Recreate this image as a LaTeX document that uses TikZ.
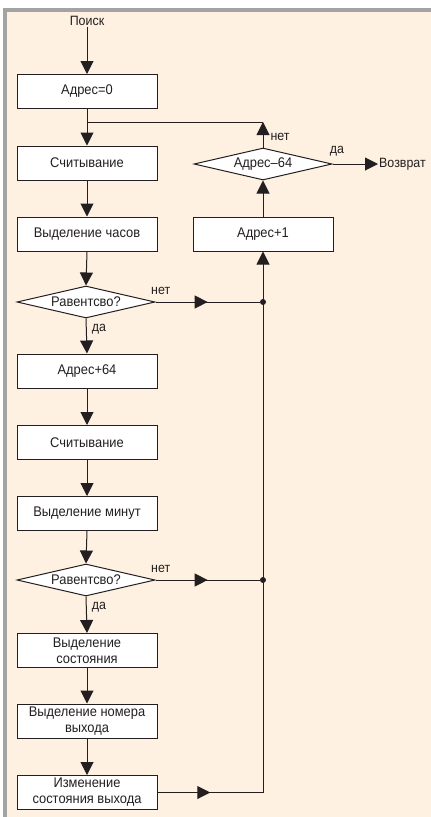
\documentclass[tikz,border=0pt]{standalone}
\usepackage{fontspec}
\setmainfont[FakeStretch=0.92]{Liberation Sans}
\usepackage{xcolor}
\definecolor{chart-fill}{HTML}{FEF1E1}
\definecolor{chart-frame}{HTML}{A3A3A3}
\definecolor{chart-line}{HTML}{231F20}
\usepackage{tikz}
\usetikzlibrary{
  shapes.geometric,
  arrows.meta,
  decorations.markings
}

\begin{document}
\begin{tikzpicture}[
    x=1pt, y=-1pt,
    block/.style={
      rectangle,
      draw=chart-line,
      fill=white,
      line width=1pt,
      minimum width=140pt,
      minimum height=34pt,
      inner sep=1pt,
      font=\fontsize{14}{16}\selectfont,
      text=chart-line,
      align=center
    },
    test/.style={
      diamond,
      aspect=4.3,
      draw=chart-line,
      fill=white,
      line width=1pt,
      minimum width=138pt,
      minimum height=32pt,
      inner sep=0pt,
      font=\fontsize{14}{16}\selectfont,
      text=chart-line
    },
    flow/.style={
      -{Triangle[length=13pt, width=13pt]},
      line width=1pt,
      color=chart-line
    },
    wire/.style={
      line width=1pt,
      color=chart-line
    },
    midflow/.style={
      wire,
      postaction={decorate},
      decoration={markings,
        mark=at position 0.5 with {\arrow{Triangle[length=13pt, width=13pt]}}}
    },
    tag/.style={
      font=\fontsize{13.5}{15}\selectfont,
      text=chart-line,
      inner sep=1pt
    },
    dot/.style={
      circle,
      fill=chart-line,
      inner sep=0pt,
      minimum size=6pt
    }
  ]
    % ---- Frame ----
    \useasboundingbox (0,0) rectangle (431,817);
    \fill[chart-frame] (3,8) rectangle (431,817);
    \fill[chart-fill] (7,12) rectangle (431,817);

    % ---- Main column ----
    \node[tag]   (start)  at (87, 21)    {Поиск};
    \node[block] (zero)   at (87, 91.5)  {Адрес=0};
    \node[block] (read1)  at (87, 163)   {Считывание};
    \node[block] (hours)  at (87, 234)   {Выделение часов};
    \node[test]  (eq1)    at (86, 302)   {Равентсво?};
    \node[block] (add64)  at (87, 371)   {Адрес+64};
    \node[block] (read2)  at (87, 442.5) {Считывание};
    \node[block] (mins)   at (87, 513.5) {Выделение минут};
    \node[test]  (eq2)    at (86, 580)   {Равентсво?};
    \node[block] (state)  at (87, 650.5) {Выделение\\состояния};
    \node[block] (outnum) at (87, 721)   {Выделение номера\\выхода};
    \node[block] (change) at (87, 792.5) {Изменение\\состояния выхода};

    % ---- Loop column ----
    \node[test]  (end64)  at (263, 164)  {Адрес--64};
    \node[block] (inc)    at (263, 234)  {Адрес+1};
    \node[tag, anchor=west] (back) at (378, 164) {Возврат};

    % ---- Junctions ----
    \coordinate (top)   at (263, 122);
    \coordinate (merge) at (87, 122);
    \node[dot] (j1) at (263, 302) {};
    \node[dot] (j2) at (263, 580) {};
    \coordinate (low)   at (263, 792.5);

    % ---- Main flow ----
    \draw[flow] (start)        -- (zero.north);
    \draw[flow] (zero.south)   -- (read1.north);
    \draw[flow] (read1.south)  -- (hours.north);
    \draw[flow] (hours.south)  -- (eq1.north);
    \draw[flow] (eq1.south)    -- (add64.north)
      node[tag, pos=0.3, right=4pt] {да};
    \draw[flow] (add64.south)  -- (read2.north);
    \draw[flow] (read2.south)  -- (mins.north);
    \draw[flow] (mins.south)   -- (eq2.north);
    \draw[flow] (eq2.south)    -- (state.north)
      node[tag, pos=0.3, right=4pt] {да};
    \draw[flow] (state.south)  -- (outnum.north);
    \draw[flow] (outnum.south) -- (change.north);

    % ---- Branches to the loop ----
    \draw[midflow] (eq1.east) -- (j1)
      node[tag, pos=0.05, above=6pt] {нет};
    \draw[midflow] (eq2.east) -- (j2)
      node[tag, pos=0.05, above=6pt] {нет};
    \draw[midflow] (change.east) -- (low);
    \draw[flow] (low) -- (inc.south);

    % ---- Loop back ----
    \draw[flow] (inc.north)   -- (end64.south);
    \draw[flow] (end64.north) -- (top)
      node[tag, pos=0.4, right=6pt] {нет};
    \draw[wire] (top) -- (merge);
    \draw[flow] (end64.east)  -- (back.west)
      node[tag, pos=0.1, above=6pt] {да};
\end{tikzpicture}
\end{document}
